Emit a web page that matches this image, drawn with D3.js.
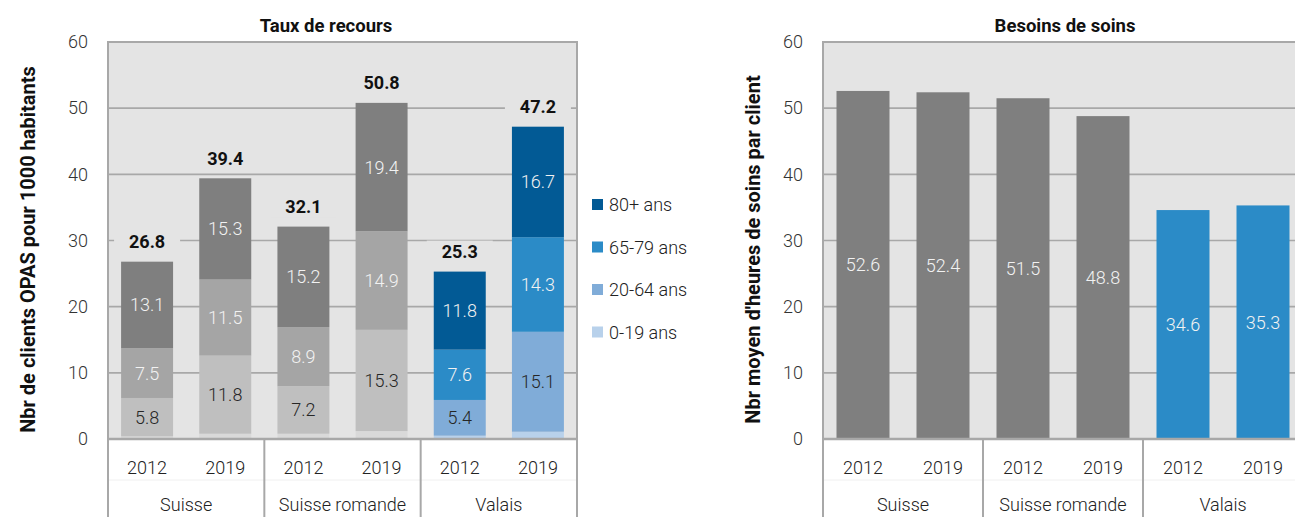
<!DOCTYPE html>
<html>
<head>
<meta charset="utf-8">
<script src="https://cdn.jsdelivr.net/npm/d3@7/dist/d3.min.js"></script>
<style>
  html, body { margin: 0; padding: 0; background: #ffffff; }
  svg { display: block; font-family: Roboto, "Open Sans", sans-serif; }
</style>
</head>
<body>
<svg id="chart" width="1295" height="517"></svg>
<script>
// ---- Data ----
const regions = ["Suisse", "Suisse romande", "Valais"];
const years = ["2012", "2019"];
const ageGroups = ["0-19 ans", "20-64 ans", "65-79 ans", "80+ ans"];

// Taux de recours (clients OPAS pour 1000 habitants), per region x year
const age0_19  = [0.4, 0.8, 0.8, 1.2, 0.5, 1.1];
const age20_64 = [5.8, 11.8, 7.2, 15.3, 5.4, 15.1];
const age65_79 = [7.5, 11.5, 8.9, 14.9, 7.6, 14.3];
const age80    = [13.1, 15.3, 15.2, 19.4, 11.8, 16.7];
const totals   = [26.8, 39.4, 32.1, 50.8, 25.3, 47.2];

// Besoins de soins (heures moyennes par client)
const heures = [52.6, 52.4, 51.5, 48.8, 34.6, 35.3];

const yTicks = [0, 10, 20, 30, 40, 50, 60];

// ---- Styling ----
const plotBg = "#e4e4e4";
const gridColor = "#a8a8a8";
const grayPalette = ["#d9d9d9", "#bfbfbf", "#a5a5a5", "#7f7f7f"];
const bluePalette = ["#b8d1eb", "#80acd8", "#2b8bc7", "#025a95"];
const labelColors = [null, "#262626", "#f2f2f2", "#f2f2f2"];

const svg = d3.select("#chart");

// category keys: one bar per region/year pair
const cats = [];
regions.forEach(r => years.forEach(y => cats.push({ region: r, year: y, key: r + "|" + y })));

function drawFrame(g, x, y, w, h, title, titleX, yTitle, yTitleX) {
  // plot background
  g.append("rect").attr("x", 0).attr("y", 0).attr("width", w).attr("height", h)
    .attr("fill", plotBg);
  // grid lines
  g.selectAll("line.grid").data(yTicks.filter(t => t > 0 && t < 60)).join("line")
    .attr("class", "grid")
    .attr("x1", 0).attr("x2", w)
    .attr("y1", d => y(d)).attr("y2", d => y(d))
    .attr("stroke", gridColor).attr("stroke-width", 1.6);
  // y tick labels
  const axis = d3.axisLeft(y).tickValues(yTicks).tickSize(0).tickPadding(20);
  const ag = g.append("g").call(axis);
  ag.select(".domain").remove();
  ag.selectAll("text").attr("font-size", 18).attr("font-weight", 300)
    .attr("fill", "#333").attr("font-family", "Roboto, sans-serif");
  // title
  g.append("text").attr("x", titleX).attr("y", -10)
    .attr("text-anchor", "middle").attr("font-size", 18.5).attr("font-weight", 700)
    .attr("fill", "#111").text(title);
  // y-axis title
  g.append("text")
    .attr("transform", `translate(${yTitleX},${h / 2 + 9}) rotate(-90)`)
    .attr("text-anchor", "middle").attr("dominant-baseline", "central")
    .attr("font-size", 20).attr("font-weight", 700).attr("fill", "#111")
    .text(yTitle);
}

function drawCategoryAxis(g, x, w, h) {
  const step = x.step();
  // faint divider between the year row and the region row
  g.append("line").attr("x1", 0).attr("x2", w).attr("y1", h + 41).attr("y2", h + 41)
    .attr("stroke", "#f0f0f0").attr("stroke-width", 1);
  // year labels
  g.selectAll("text.year").data(cats).join("text")
    .attr("class", "year")
    .attr("x", d => x(d.key) + x.bandwidth() / 2)
    .attr("y", h + 35)
    .attr("text-anchor", "middle").attr("font-size", 18).attr("font-weight", 300)
    .attr("fill", "#222").text(d => d.year);
  // region labels
  g.selectAll("text.region").data(regions).join("text")
    .attr("class", "region")
    .attr("x", (d, i) => x(d + "|" + years[0]) - (step - x.bandwidth()) / 2 + step)
    .attr("y", h + 72)
    .attr("text-anchor", "middle").attr("font-size", 18).attr("font-weight", 300)
    .attr("fill", "#222").text(d => d);
  // group separators
  const seps = d3.range(regions.length + 1).map(i => i * step * years.length);
  g.selectAll("line.sep").data(seps).join("line")
    .attr("class", "sep")
    .attr("x1", d => d).attr("x2", d => d)
    .attr("y1", h).attr("y2", h + 90)
    .attr("stroke", gridColor).attr("stroke-width", 2);
}

function drawBorder(g, w, h) {
  g.append("rect").attr("x", 0).attr("y", 0).attr("width", w).attr("height", h)
    .attr("fill", "none").attr("stroke", gridColor).attr("stroke-width", 2);
  g.append("line").attr("x1", 0).attr("x2", w).attr("y1", h).attr("y2", h)
    .attr("stroke", gridColor).attr("stroke-width", 2.5);
}

// ---- Left panel: Taux de recours (stacked) ----
{
  const left = 108, top = 42, w = 469, h = 397;
  const g = svg.append("g").attr("transform", `translate(${left},${top})`);
  const x = d3.scaleBand().domain(cats.map(d => d.key)).range([0, w])
    .paddingInner(0.335).paddingOuter(0.1675);
  const y = d3.scaleLinear().domain([0, 60]).range([h, 0]);

  drawFrame(g, x, y, w, h, "Taux de recours", 218,
    "Nbr de clients OPAS pour 1000 habitants", -80);

  const rows = cats.map((c, i) => ({
    key: c.key, region: c.region,
    "0-19 ans": age0_19[i], "20-64 ans": age20_64[i],
    "65-79 ans": age65_79[i], "80+ ans": age80[i], total: totals[i]
  }));
  const series = d3.stack().keys(ageGroups)(rows);

  series.forEach((s, si) => {
    const sg = g.append("g");
    sg.selectAll("rect").data(s).join("rect")
      .attr("x", d => x(d.data.key))
      .attr("width", x.bandwidth())
      .attr("y", d => y(d[1]))
      .attr("height", d => y(d[0]) - y(d[1]))
      .attr("fill", d => (d.data.region === "Valais" ? bluePalette : grayPalette)[si]);
    if (labelColors[si]) {
      sg.selectAll("text").data(s).join("text")
        .attr("x", d => x(d.data.key) + x.bandwidth() / 2)
        .attr("y", d => y((d[0] + d[1]) / 2))
        .attr("dy", "0.36em")
        .attr("text-anchor", "middle").attr("font-size", 18).attr("font-weight", 300)
        .attr("fill", labelColors[si])
        .text(d => (d[1] - d[0]).toFixed(1));
    }
  });

  drawBorder(g, w, h);

  // totals above each bar, on a background that masks the grid
  const tg = g.append("g").selectAll("g").data(rows).join("g")
    .attr("transform", d => `translate(${x(d.key) + x.bandwidth() / 2},${y(d.total) - 20})`);
  tg.append("rect").attr("x", -33).attr("y", -11).attr("width", 66).attr("height", 22)
    .attr("fill", plotBg);
  tg.append("text").attr("text-anchor", "middle").attr("dy", "0.36em")
    .attr("font-size", 18).attr("font-weight", 700).attr("fill", "#111")
    .text(d => d.total.toFixed(1));

  drawCategoryAxis(g, x, w, h);

  // legend (top entry = last stack layer)
  const legend = svg.append("g").attr("transform", "translate(592,205)");
  const items = ageGroups.slice().reverse();
  const lg = legend.selectAll("g").data(items).join("g")
    .attr("transform", (d, i) => `translate(0,${i * 42.5})`);
  lg.append("rect").attr("x", 0).attr("y", -6).attr("width", 11).attr("height", 11)
    .attr("fill", (d, i) => bluePalette[ageGroups.length - 1 - i]);
  lg.append("text").attr("x", 17).attr("dy", "0.36em")
    .attr("font-size", 18).attr("font-weight", 300).attr("fill", "#222").text(d => d);
}

// ---- Right panel: Besoins de soins ----
{
  const left = 823, top = 42, w = 480, h = 397;
  const g = svg.append("g").attr("transform", `translate(${left},${top})`);
  const x = d3.scaleBand().domain(cats.map(d => d.key)).range([0, w])
    .paddingInner(0.3375).paddingOuter(0.16875);
  const y = d3.scaleLinear().domain([0, 60]).range([h, 0]);

  drawFrame(g, x, y, w, h, "Besoins de soins", 242,
    "Nbr moyen d'heures de soins par client", -70);

  const rows = cats.map((c, i) => ({ key: c.key, region: c.region, value: heures[i] }));
  g.append("g").selectAll("rect").data(rows).join("rect")
    .attr("x", d => x(d.key)).attr("width", x.bandwidth())
    .attr("y", d => y(d.value)).attr("height", d => h - y(d.value))
    .attr("fill", d => d.region === "Valais" ? "#2b8bc7" : "#7f7f7f");
  g.append("g").selectAll("text").data(rows).join("text")
    .attr("x", d => x(d.key) + x.bandwidth() / 2)
    .attr("y", d => y(d.value / 2)).attr("dy", "0.36em")
    .attr("text-anchor", "middle").attr("font-size", 18).attr("font-weight", 300)
    .attr("fill", "#f2f2f2").text(d => d.value.toFixed(1));

  drawBorder(g, w, h);
  drawCategoryAxis(g, x, w, h);
}
</script>
</body>
</html>
